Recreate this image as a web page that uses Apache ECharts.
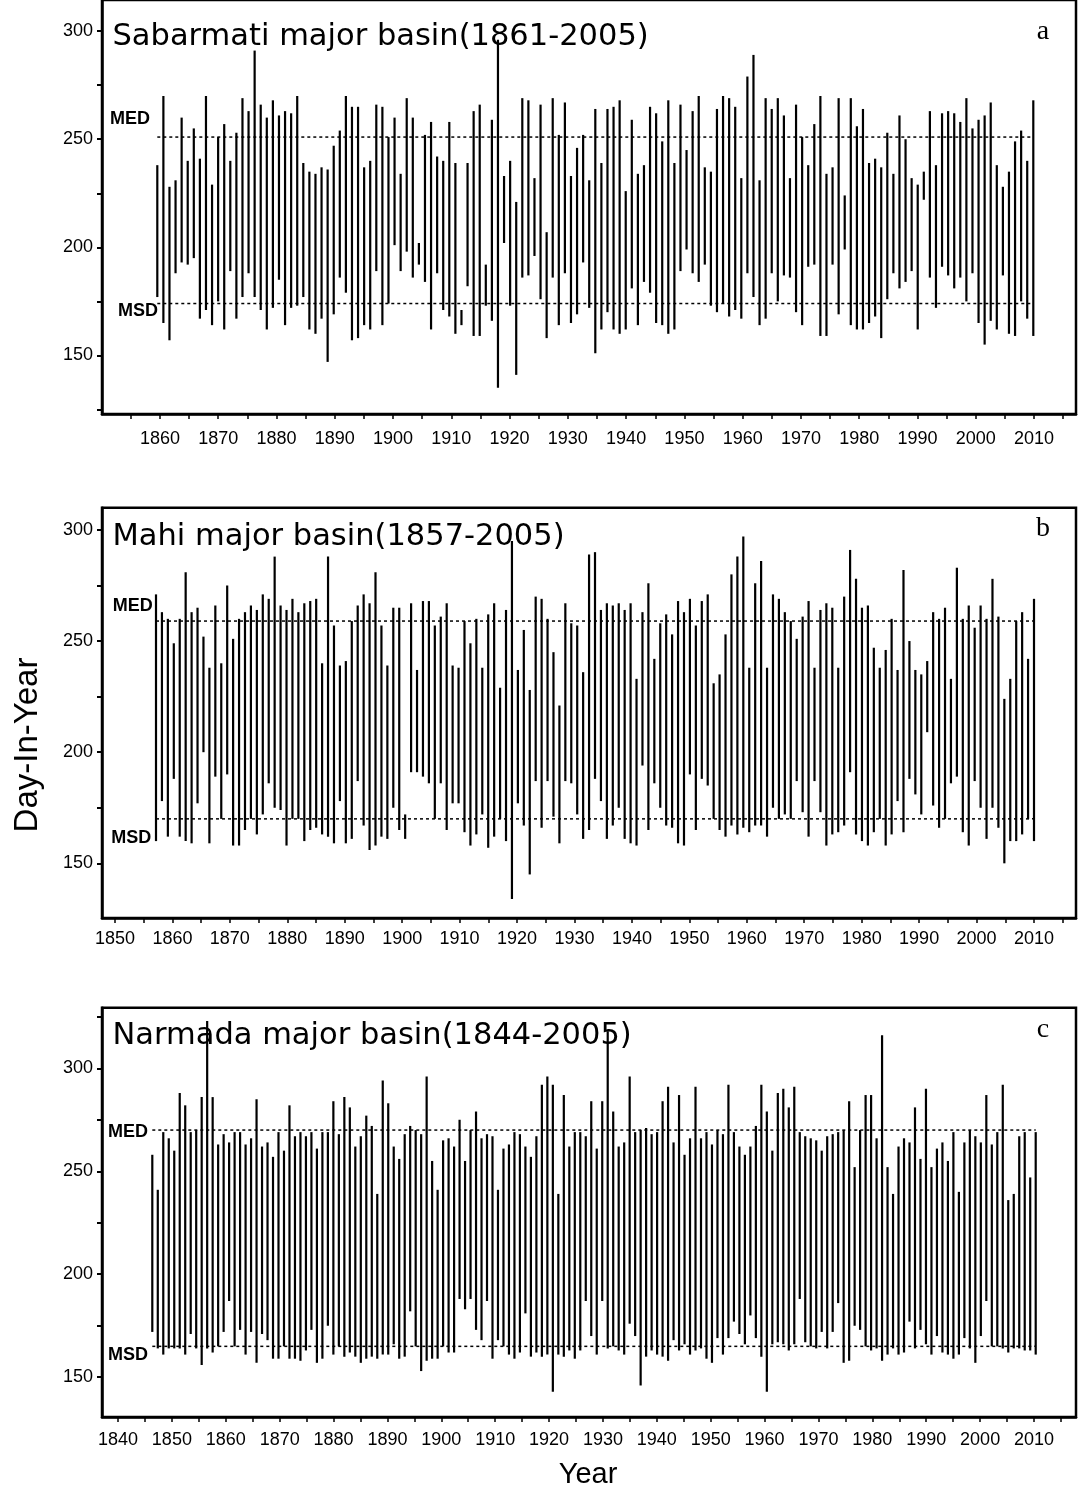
<!DOCTYPE html>
<html><head><meta charset="utf-8">
<script src="https://cdn.jsdelivr.net/npm/echarts@6/dist/echarts.min.js"></script>
<style>html,body{margin:0;padding:0;background:#fff}#c{width:1092px;height:1497px}</style>
</head><body><div id="c"></div><script>
// ---------- DATA ----------
const sabarmatiFirstYear = 1861;
const sabarmatiOnset = [177,165,157,188,193,192,195,167,171,164,175,162,189,167,177,188,177,171,162,172,185,164,172,173,177,162,160,167,147,169,186,179,157,158,164,162,189,164,174,201,189,198,186,192,184,162,188,171,168,160,164,182,159,159,173,166,135,202,173,141,186,187,196,176,158,186,164,188,165,169,193,172,151,162,170,162,160,162,181,164,184,179,165,164,160,162,189,199,188,184,192,173,170,174,168,171,167,188,177,164,167,188,175,187,186,170,164,191,192,159,159,192,169,199,164,162,162,165,168,158,176,188,181,184,189,162,222,186,172,191,187,181,186,175,188,165,155,166,162,187,160,159,175,167,159];
const sabarmatiEnd = [238,270,228,231,260,240,255,241,270,229,251,257,240,253,269,263,291,266,260,268,261,263,262,270,239,235,234,237,236,247,254,270,265,265,237,240,266,265,251,260,234,269,260,202,252,258,242,240,258,239,171,239,263,266,192,259,296,233,240,221,269,268,232,266,207,269,252,267,233,246,252,231,264,239,264,265,268,226,259,234,238,265,262,249,268,239,266,245,263,270,237,235,264,270,269,265,232,279,289,231,269,264,269,261,232,266,251,238,257,270,234,237,269,224,269,256,264,239,241,237,253,234,261,250,232,229,235,263,238,262,263,262,258,269,255,259,261,267,238,228,235,249,254,240,268];
const sabarmatiMSD = 174, sabarmatiMED = 251;

const mahiFirstYear = 1857;
const mahiOnset = [160,178,162,188,162,160,159,177,200,159,189,170,190,158,158,165,170,163,172,186,175,174,158,170,170,160,165,166,163,162,159,178,159,161,187,167,156,158,162,161,175,165,161,191,191,189,186,170,186,165,177,177,164,158,163,172,157,162,170,160,134,177,167,145,187,166,187,171,159,187,186,172,161,165,188,178,161,167,175,161,159,158,194,165,186,175,167,166,159,158,190,165,188,185,170,165,162,167,163,166,164,167,167,162,175,170,172,170,187,173,162,187,173,158,163,164,167,191,163,160,158,164,170,158,163,178,164,188,181,172,209,176,166,170,186,189,164,158,187,175,161,175,166,150,160,160,163,170,160];
const mahiEnd = [271,263,260,249,260,281,263,265,252,238,266,240,275,251,260,263,266,264,271,269,288,266,264,269,263,267,268,269,240,288,257,239,241,259,266,271,267,281,257,239,265,265,172,267,237,268,268,257,261,267,239,238,259,249,260,238,262,267,229,264,295,237,255,228,270,269,260,245,221,267,258,257,236,289,290,264,267,266,267,264,267,233,263,276,242,258,262,253,268,263,269,257,268,271,231,235,253,280,288,297,238,276,286,238,271,269,263,259,251,261,268,238,264,267,265,238,270,291,278,265,266,247,238,246,260,237,282,250,237,235,241,263,260,265,233,283,260,266,256,266,260,278,261,224,233,259,263,242,269];
const mahiMSD = 170, mahiMED = 259;

const narmadaFirstYear = 1844;
const narmadaOnset = [172,164,161,164,164,164,161,171,164,156,164,162,165,172,187,165,173,161,172,157,171,168,159,159,165,159,159,158,163,173,157,159,175,161,165,160,162,160,157,159,160,159,161,161,166,159,160,182,165,153,158,159,159,165,162,162,188,183,188,173,168,187,159,168,165,161,159,162,181,160,162,160,161,143,161,160,163,159,163,187,170,161,187,164,165,163,161,176,170,146,160,163,161,160,158,168,163,166,161,163,164,159,157,169,161,169,177,171,166,180,169,160,143,166,167,166,163,166,188,167,165,164,172,164,172,186,157,158,175,173,165,163,164,158,161,164,161,162,177,164,173,166,161,170,162,161,159,161,169,164,157,170,187,165,165,164,162,164,164,163,163,161];
const narmadaEnd = [258,241,269,266,260,288,282,269,270,286,323,286,263,268,264,269,269,263,266,285,262,264,257,269,260,282,267,269,267,269,261,269,269,284,268,286,281,262,267,277,272,239,294,283,262,256,268,272,270,268,296,255,241,265,266,262,275,255,270,279,266,268,267,241,261,263,269,268,262,257,267,292,296,292,239,287,262,269,269,267,284,261,284,318,279,262,264,296,269,270,271,268,269,284,291,264,287,258,266,291,266,269,263,270,268,292,269,262,258,262,272,292,279,260,288,290,281,291,269,267,266,265,260,267,268,269,270,284,252,270,287,287,266,316,252,239,262,266,264,281,256,290,252,261,264,255,269,240,264,270,267,264,287,263,269,292,236,239,267,269,247,269];
const narmadaMSD = 165, narmadaMED = 270;

const yTicksAB = [125,150,175,200,225,250,275,300];
const yTicksC = [150,175,200,225,250,275,300,325];
const yLabels = [150,200,250,300];
const xLabelsA = [1860,1870,1880,1890,1900,1910,1920,1930,1940,1950,1960,1970,1980,1990,2000,2010];
const xLabelsB = [1850].concat(xLabelsA);
const xLabelsC = [1840].concat(xLabelsB);
const panelTitles = ['Sabarmati major basin(1861-2005)','Mahi major basin(1857-2005)','Narmada major basin(1844-2005)'];
const panelLetters = ['a','b','c'];

// ---------- BUILD ----------
function rows(first, on, end){ return on.map((v,i)=>[first+i, v, end[i]]); }
function ticks5(a,b){ const r=[]; for(let y=a;y<=b;y+=5) r.push(y); return r; }

const L = 102, R = 1076, W = R - L;
const panels = [
  {grid:{left:L, top:-3, width:W, height:417}, ymin:122.9, ymax:314.4, lm:16,
   lx:[1850.05, 2010 + (R-1034)/5.827], dx:[1861 - (157.3-L)/6.0833, 2005 + (R-1033.3)/6.0833],
   yt:yTicksAB, xl:xLabelsA, xt:ticks5(1855,2015), data:rows(sabarmatiFirstYear,sabarmatiOnset,sabarmatiEnd),
   first:sabarmatiFirstYear, msd:sabarmatiMSD, med:sabarmatiMED},
  {grid:{left:L, top:507.7, width:W, height:410.3}, ymin:125.4, ymax:310, lm:12,
   lx:[1847.74, 2010 + (R-1034)/5.744], dx:[1857 - (156-L)/5.9324, 2005 + (R-1034)/5.9324],
   yt:yTicksAB, xl:xLabelsB, xt:ticks5(1850,2015), data:rows(mahiFirstYear,mahiOnset,mahiEnd),
   first:mahiFirstYear, msd:mahiMSD, med:mahiMED},
  {grid:{left:L, top:1007.7, width:W, height:409.3}, ymin:130.7, ymax:329.4, lm:14,
   lx:[1837.03, 2010 + (R-1034)/5.388], dx:[1844 - (152.3-L)/5.487, 2005 + (R-1035.7)/5.487],
   yt:yTicksC, xl:xLabelsC, xt:ticks5(1840,2015), data:rows(narmadaFirstYear,narmadaOnset,narmadaEnd),
   first:narmadaFirstYear, msd:narmadaMSD, med:narmadaMED}
];

const grids=[], xAxes=[], yAxes=[], series=[];
const fmt = v => String(v);
panels.forEach((p,i)=>{
  grids.push(Object.assign({show:true, borderColor:'#000', borderWidth:2.5, backgroundColor:'transparent'}, p.grid));
  xAxes.push({type:'value', gridIndex:i, min:p.lx[0], max:p.lx[1],
    axisLine:{show:true, onZero:false, lineStyle:{color:'#000', width:2.5}},
    axisTick:{show:true, length:5, lineStyle:{color:'#000', width:1.5}, customValues:p.xt},
    axisLabel:{show:true, customValues:p.xl, formatter:fmt, color:'#000', fontFamily:'Liberation Sans', fontSize:18, margin:p.lm},
    splitLine:{show:false}});
  xAxes.push({type:'value', gridIndex:i, min:p.dx[0], max:p.dx[1], show:false,
    axisLine:{show:false}, axisTick:{show:false}, axisLabel:{show:false}, splitLine:{show:false}});
  yAxes.push({type:'value', gridIndex:i, min:p.ymin, max:p.ymax,
    axisLine:{show:true, onZero:false, lineStyle:{color:'#000', width:2.5}},
    axisTick:{show:true, length:5, lineStyle:{color:'#000', width:2}, customValues:p.yt},
    axisLabel:{show:true, customValues:yLabels, formatter:fmt, color:'#000', fontFamily:'Liberation Sans', fontSize:18, margin:9},
    splitLine:{show:false}});
  series.push({type:'custom', xAxisIndex:2*i+1, yAxisIndex:i, data:p.data, clip:false, silent:true,
    encode:{x:0, y:[1,2]},
    renderItem:function(params, api){
      const a = api.coord([api.value(0), api.value(1)]);
      const b = api.coord([api.value(0), api.value(2)]);
      return {type:'line', shape:{x1:a[0], y1:a[1], x2:b[0], y2:b[1]}, style:{stroke:'#000', lineWidth:2.2}};
    }});
  const last = p.first + p.data.length - 1;
  [p.med, p.msd].forEach(v=>{
    series.push({type:'line', xAxisIndex:2*i+1, yAxisIndex:i, data:[[p.first, v],[last, v]], symbol:'none', silent:true,
      lineStyle:{color:'#000', width:1.5, type:[3,3]}, z:1});
  });
});

const g=[];
const titleY=[37.5, 537.5, 1036];
const letterY=[46, 543, 1044];
panelTitles.forEach((t,i)=>{
  g.push({type:'text', x:112.5, y:titleY[i], style:{text:t, fontFamily:'DejaVu Sans', fontSize:30.5, fill:'#000', textAlign:'left', textVerticalAlign:'middle'}});
  g.push({type:'text', x:1043, y:letterY[i], style:{text:panelLetters[i], fontFamily:'Liberation Serif', fontSize:28, fill:'#000', textAlign:'center', textVerticalAlign:'bottom'}});
});
const medPos=[[130,119],[132.8,605.8],[128,1132.5]];
const msdPos=[[138,311.3],[131.3,838],[128,1355.5]];
medPos.forEach(p=>g.push({type:'text', x:p[0], y:p[1], style:{text:'MED', fontFamily:'Liberation Sans', fontWeight:'bold', fontSize:18, fill:'#000', textAlign:'center', textVerticalAlign:'middle'}}));
msdPos.forEach(p=>g.push({type:'text', x:p[0], y:p[1], style:{text:'MSD', fontFamily:'Liberation Sans', fontWeight:'bold', fontSize:18, fill:'#000', textAlign:'center', textVerticalAlign:'middle'}}));
g.push({type:'text', x:28, y:745, rotation:Math.PI/2, style:{text:'Day-In-Year', fontFamily:'Liberation Sans', fontSize:33, fill:'#000', textAlign:'center', textVerticalAlign:'middle'}});
g.push({type:'text', x:588, y:1475, style:{text:'Year', fontFamily:'Liberation Sans', fontSize:29, fill:'#000', textAlign:'center', textVerticalAlign:'middle'}});

const chart = echarts.init(document.getElementById('c'), null, {renderer:'canvas', width:1092, height:1497});
chart.setOption({animation:false, backgroundColor:'#fff', grid:grids, xAxis:xAxes, yAxis:yAxes, series:series, graphic:g});
</script></body></html>
